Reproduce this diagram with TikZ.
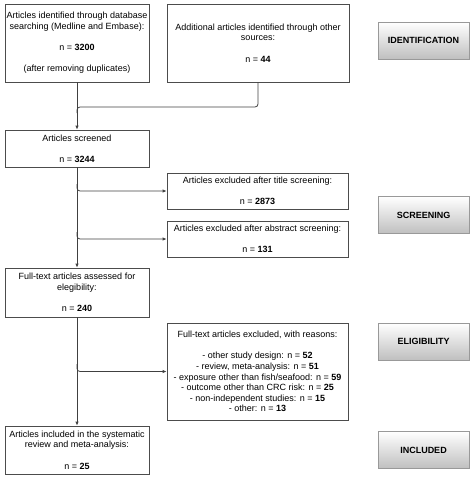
\documentclass[tikz,border=0pt]{standalone}
\usepackage{fontspec}
\setmainfont{Liberation Sans}
\usetikzlibrary{arrows.meta}
\def\leftx{77}
\def\midx{257.5}
\def\stagex{423.5}
\def\gap{10.6pt}

\begin{document}
\begin{tikzpicture}[x=1pt, y=-1pt,
  every node/.style={font=\fontsize{9}{10.6}\selectfont, inner sep=0pt, align=center},
  box/.style={draw=black!70, line width=0.8pt, fill=white},
  stage/.style={draw=black!40, line width=0.6pt, top color=white, bottom color=black!25,
    minimum width=91, minimum height=37, font=\fontsize{9}{10.6}\selectfont\bfseries},
  line/.style={draw=black!75, line width=0.8pt},
  arr/.style={-{Latex[length=4pt,width=3.5pt]}}]
  \useasboundingbox (0,0) rectangle (474,479);
  % left column
  \node[box, minimum width=144, minimum height=78] (db) at (\leftx,43)
    {Articles identified through database\\ searching (Medline and Embase):\\[\gap]
     n = \textbf{3200}\\[\gap] (after removing duplicates)};
  \node[box, minimum width=182, minimum height=78] (other) at (258,43)
    {Additional articles identified through other\\ sources:\\[\gap] n = \textbf{44}};
  \node[box, minimum width=144, minimum height=37] (screened) at (\leftx,148.5)
    {Articles screened\\[\gap] n = \textbf{3244}};
  \node[box, minimum width=144, minimum height=49] (fulltext) at (\leftx,292.5)
    {Full-text articles assessed for\\ elegibility:\\[\gap] n = \textbf{240}};
  \node[box, minimum width=144, minimum height=48] (included) at (\leftx,450)
    {Articles included in the systematic\\ review and meta-analysis:\\[\gap] n = \textbf{25}};
  % exclusions
  \node[box, minimum width=181, minimum height=36] (title) at (\midx,191)
    {Articles excluded after title screening:\\[\gap] n = \textbf{2873}};
  \node[box, minimum width=181, minimum height=36] (abstract) at (\midx,239)
    {Articles excluded after abstract screening:\\[\gap] n = \textbf{131}};
  \node[box, minimum width=181, minimum height=97] (excl) at (\midx,371.5)
    {Full-text articles excluded, with reasons:\\[\gap]
     - other study design: n = \textbf{52}\\
     - review, meta-analysis: n = \textbf{51}\\
     - exposure other than fish/seafood: n = \textbf{59}\\
     - outcome other than CRC risk: n = \textbf{25}\\
     - non-independent studies: n = \textbf{15}\\
     - other: n = \textbf{13}};
  % stage labels
  \foreach \name/\y/\txt in {ident/40.5/IDENTIFICATION, scrn/215/SCREENING,
      elig/341.5/ELIGIBILITY, incl/450/INCLUDED}
    \node[stage] (\name) at (\stagex,\y) {\txt};
  % connectors
  \coordinate (m1) at (\leftx,107);
  \coordinate (b1) at (\leftx,184);
  \coordinate (b2) at (\leftx,232);
  \coordinate (b3) at (\leftx,364);
  \draw[line,arr] (db) -- (screened);
  \draw[line, rounded corners=3pt] (other) |- (m1) -- ++(0,6);
  \draw[line,arr] (screened) -- (fulltext);
  \draw[line,arr, rounded corners=3pt] (b1) |- (title);
  \draw[line,arr, rounded corners=3pt] (b2) |- (abstract);
  \draw[line,arr] (fulltext) -- (included);
  \draw[line,arr, rounded corners=3pt] (b3) |- (excl);
\end{tikzpicture}
\end{document}
